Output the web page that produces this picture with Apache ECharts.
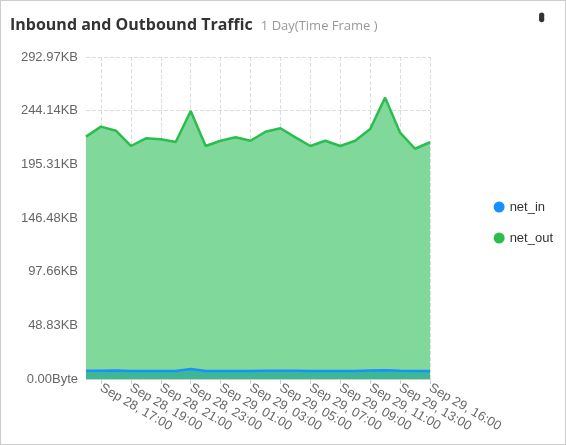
<!DOCTYPE html><html><head><meta charset="utf-8">
<script src="https://cdn.jsdelivr.net/npm/echarts@6/dist/echarts.min.js"></script>
<style>body{margin:0;font-family:"Open Sans",sans-serif}
#card{position:absolute;left:0;top:0;width:564px;height:443px;border:1px solid #ccc;background:#fff}
#t{position:absolute;left:10px;top:13px;font:bold 16px "Open Sans",sans-serif;color:#333}
#t span{font-weight:normal;font-size:13px;color:#999;margin-left:8px}
#m{position:absolute;right:14px;top:12px;font:bold 18px sans-serif;color:#333;writing-mode:vertical-lr;letter-spacing:-4px}
#c{position:absolute;left:0;top:0;width:566px;height:445px}</style></head><body>
<div id="card"></div><div id="c"></div>
<div id="t">Inbound and Outbound Traffic<span>1 Day(Time Frame )</span></div><div id="m">•••</div>
<script>
const categories=["Sep 28, 16:00","Sep 28, 17:00","Sep 28, 18:00","Sep 28, 19:00","Sep 28, 20:00","Sep 28, 21:00","Sep 28, 22:00","Sep 28, 23:00","Sep 29, 00:00","Sep 29, 01:00","Sep 29, 02:00","Sep 29, 03:00","Sep 29, 04:00","Sep 29, 05:00","Sep 29, 06:00","Sep 29, 07:00","Sep 29, 08:00","Sep 29, 09:00","Sep 29, 10:00","Sep 29, 11:00","Sep 29, 12:00","Sep 29, 13:00","Sep 29, 14:00","Sep 29, 16:00"];
const netOut=[220.5,229.6,225.9,212,219,218.1,215.6,243.8,212,216.8,219.9,216.8,225,228.1,219.9,212,216.8,212,216.8,227.5,256,224.1,209.5,215.4];
const netIn=[7.5,7.6,7.8,7.2,7.3,7.3,7.2,9.2,7.2,7.3,7.3,7.2,7.4,7.5,7.4,7.2,7.2,7.2,7.3,7.8,8.0,7.6,7.3,7.2];
const chart=echarts.init(document.getElementById('c'));
chart.setOption({
 animation:false,
 grid:{left:86,right:136,top:57,bottom:66},
 legend:{orient:'vertical',right:8,top:'middle',itemGap:18,icon:'circle',itemWidth:11,itemHeight:11,textStyle:{fontSize:13,color:'#333'},data:['net_in','net_out']},
 xAxis:{type:'category',boundaryGap:false,data:categories,
  axisLine:{lineStyle:{color:'#ccc'}},axisTick:{alignWithLabel:true,interval:(i)=>i%2===1||i===categories.length-1},
  axisLabel:{rotate:-30,color:'#666',fontSize:13,interval:(i)=>i%2===1||i===categories.length-1,margin:8},
  splitLine:{show:true,interval:(i)=>i%2===1||i===categories.length-1,lineStyle:{type:'dashed',color:'#ddd'}}},
 yAxis:{type:'value',min:0,max:292.97,interval:48.828,
  axisLabel:{color:'#666',fontSize:13,formatter:v=>v===0?'0.00Byte':v.toFixed(2)+'KB'},
  splitLine:{lineStyle:{type:'dashed',color:'#ddd'}}},
 series:[
  {name:'net_out',type:'line',data:netOut,symbol:'none',color:'#2bbd4e',lineStyle:{width:2.5},areaStyle:{color:'#80d89b',opacity:1}},
  {name:'net_in',type:'line',data:netIn,symbol:'none',color:'#1890ff',lineStyle:{width:2.5},areaStyle:{color:'#3db895',opacity:1}}
 ]});
</script></body></html>
